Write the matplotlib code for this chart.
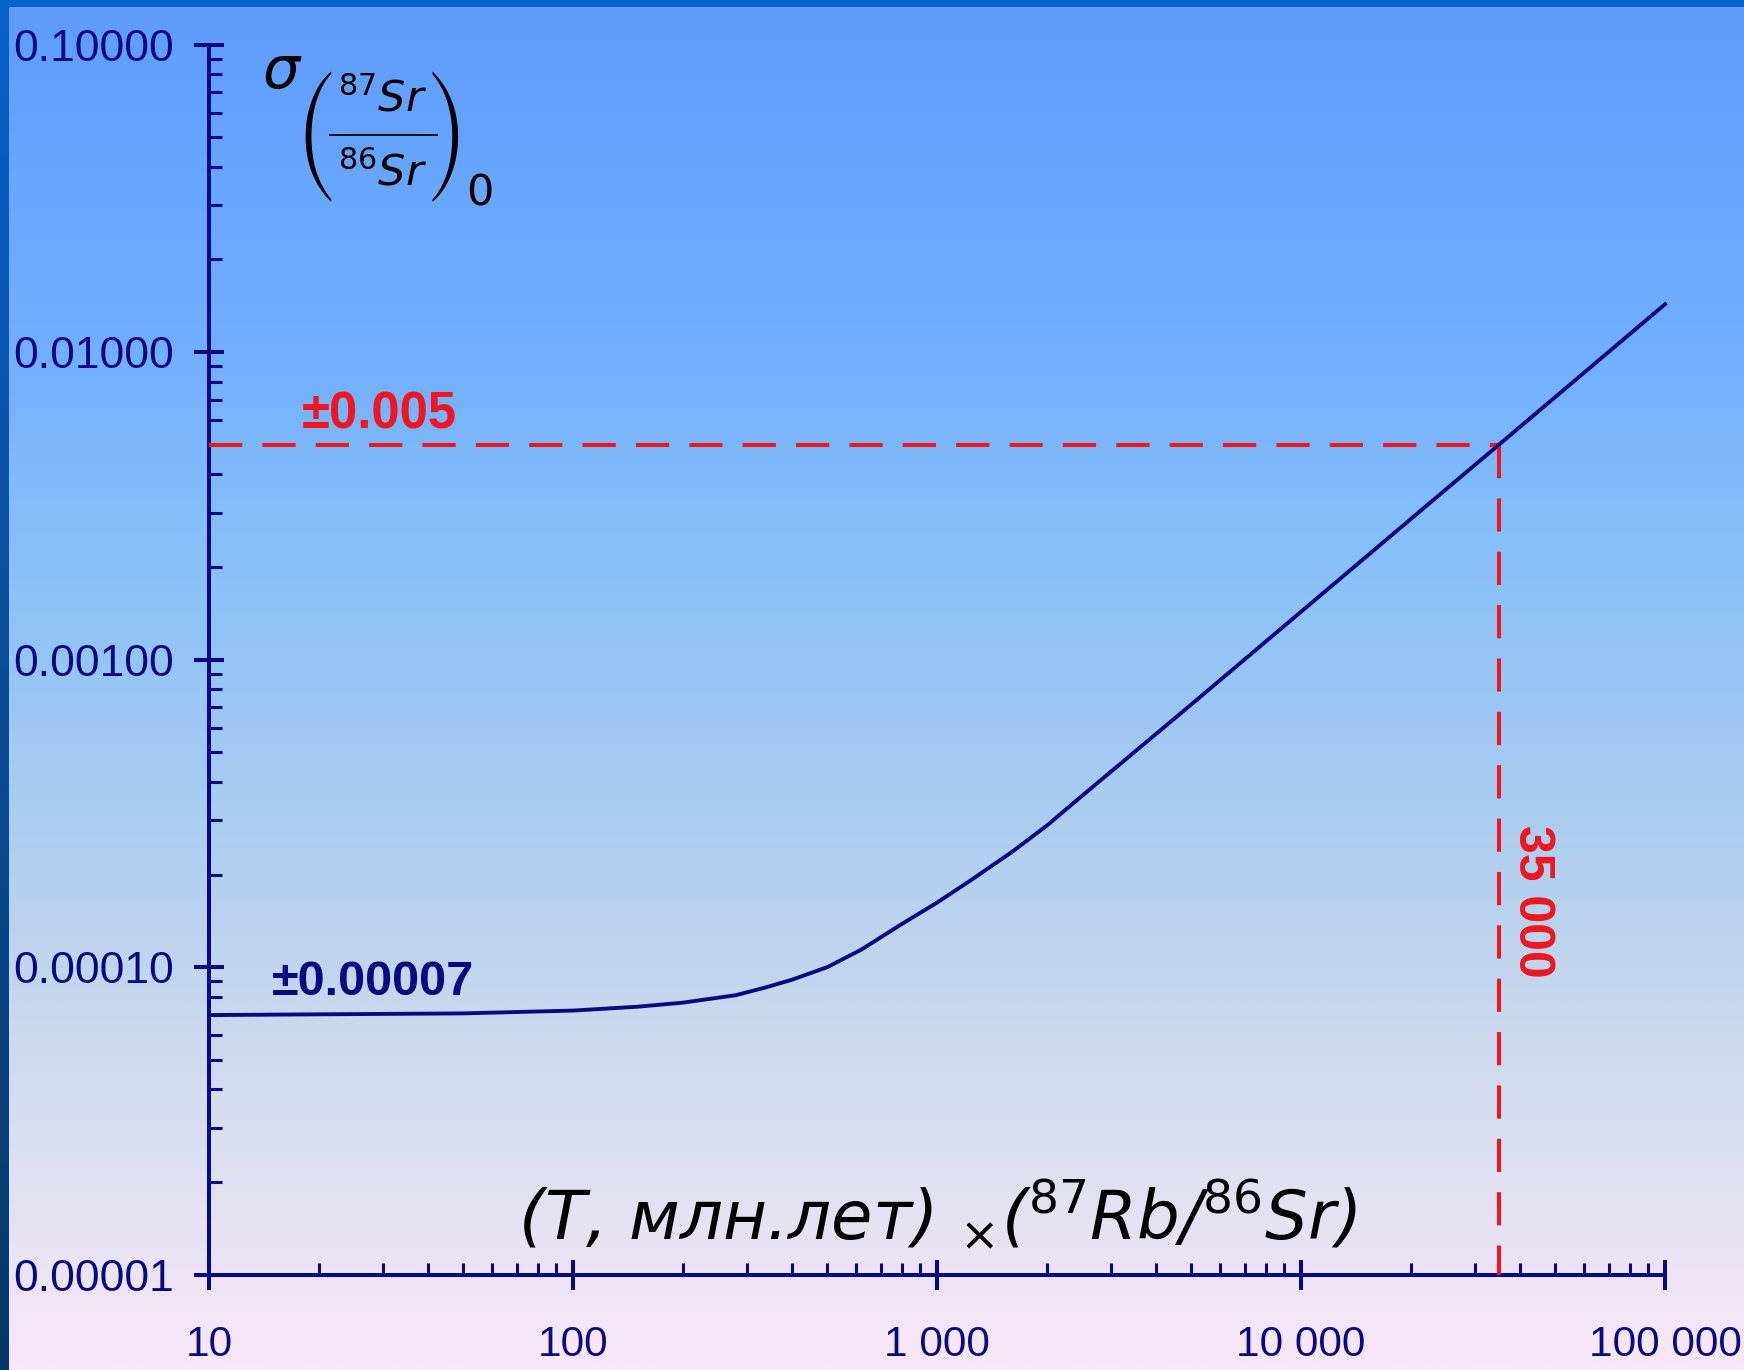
import os
import numpy as np
import matplotlib
matplotlib.use("Agg")
import matplotlib.pyplot as plt
from matplotlib import font_manager as fm
from matplotlib.textpath import TextPath
from matplotlib.lines import Line2D
from matplotlib.colors import LinearSegmentedColormap
from matplotlib.ticker import LogLocator, NullFormatter

plt.rcParams['mathtext.fontset'] = 'dejavusans'

# ---- data ----
x_values = [10, 20, 50, 100, 150, 200, 280, 340, 400, 500, 620, 800, 1000,
            1250, 1600, 2000, 2500, 5000, 10000, 20000, 35000, 100000]
sigma_values = [6.98e-5, 7.02e-5, 7.07e-5, 7.22e-5, 7.43e-5, 7.66e-5, 8.1e-5,
                8.6e-5, 9.1e-5, 1.0e-4, 1.14e-4, 1.38e-4, 1.62e-4, 1.93e-4,
                2.36e-4, 2.88e-4, 3.6e-4, 7.15e-4, 1.43e-3, 2.86e-3, 5.0e-3,
                1.43e-2]

x_ticks = [10, 100, 1000, 10000, 100000]
x_tick_labels = ['10', '100', '1 000', '10 000', '100 000']
y_ticks = [1e-5, 1e-4, 1e-3, 1e-2, 1e-1]
y_tick_labels = ['0.00001', '0.00010', '0.00100', '0.01000', '0.10000']

limit_x = 35000
limit_sigma = 0.005
label_low = '±0.00007'
label_limit_sigma = '±0.005'
label_limit_x = '35 000'

NAVY = '#0a0a80'
RED = '#ee1620'

W, H = 1744, 1370
fig = plt.figure(figsize=(W / 100, H / 100), dpi=100)

# ---- background gradient ----
bg = fig.add_axes([0, 0, 1, 1], zorder=-10)
bg.set_axis_off()
cmap = LinearSegmentedColormap.from_list('bg', [
    (0.0, '#5e9cfe'), (0.25, '#72aefd'), (0.37, '#82bdfb'),
    (0.52, '#9cc7f3'), (0.68, '#bcd3ee'), (0.84, '#dcdff0'),
    (1.0, '#f8e8f8')])
grad = np.linspace(0, 1, 512).reshape(-1, 1)
bg.imshow(grad, aspect='auto', cmap=cmap, extent=[0, 1, 1, 0])
strip = LinearSegmentedColormap.from_list('strip', ['#0862c8', '#0a4c96', '#053868'])
bg.imshow(grad, aspect='auto', cmap=strip, extent=[0, 8 / W, 1, 0])
bg.add_patch(plt.Rectangle((0, 0), 1, 7 / H, color='#0462c8', lw=0))
bg.set_xlim(0, 1)
bg.set_ylim(1, 0)

# ---- main axes ----
ax = fig.add_axes([209 / W, 1 - 1274.6 / H, (1665 - 209) / W, (1274.6 - 44.5) / H])
ax.set_facecolor('none')
ax.set_xscale('log')
ax.set_yscale('log')
ax.set_xlim(10, 100000)
ax.set_ylim(1e-5, 0.1)

for s in ['top', 'right']:
    ax.spines[s].set_visible(False)
for s in ['left', 'bottom']:
    ax.spines[s].set_color(NAVY)
    ax.spines[s].set_linewidth(2.9)

ax.set_xticks(x_ticks)
ax.set_xticklabels(x_tick_labels)
ax.set_yticks(y_ticks)
ax.set_yticklabels(y_tick_labels)
ax.xaxis.set_minor_locator(LogLocator(base=10, subs=np.arange(2, 10)))
ax.yaxis.set_minor_locator(LogLocator(base=10, subs=np.arange(2, 10)))
ax.xaxis.set_minor_formatter(NullFormatter())
ax.yaxis.set_minor_formatter(NullFormatter())

ax.tick_params(which='major', direction='inout', length=21, width=2.9,
               color=NAVY, labelcolor=NAVY)
ax.tick_params(axis='x', which='major', pad=26, labelsize=30.5)
ax.tick_params(axis='y', which='major', pad=15, labelsize=32)
ax.tick_params(which='minor', direction='in', length=9, width=2.2, color=NAVY)
for lab in ax.get_xticklabels() + ax.get_yticklabels():
    lab.set_fontfamily('Liberation Sans')

# curve
ax.plot(x_values, sigma_values, color=NAVY, lw=2.8, zorder=4,
        solid_joinstyle='round', clip_on=False)

# red dashed guides
ax.plot([10, limit_x], [limit_sigma, limit_sigma], color=RED, lw=2.9,
        dashes=(8.25, 5), zorder=3)
ax.plot([limit_x, limit_x], [limit_sigma, 1e-5], color=RED, lw=2.9,
        dashes=(8.25, 5), zorder=3)

# annotations
ax.text(0.0433, 0.2273, label_low, transform=ax.transAxes, color=NAVY,
        fontsize=35, fontweight='bold', family='Liberation Sans',
        ha='left', va='baseline')
ax.text(0.0639, 0.6882, label_limit_sigma, transform=ax.transAxes, color=RED,
        fontsize=36.5, fontweight='bold', family='Liberation Sans',
        ha='left', va='baseline')
ax.text(0.9087, 0.3037, label_limit_x, transform=ax.transAxes, color=RED,
        fontsize=36, fontweight='bold', family='Liberation Sans',
        ha='center', va='center', rotation=-90)

# ---- y-axis label (composed) ----
fig.text(262 / W, 1 - 88 / H, r'$\sigma$', fontsize=42, color='black',
         ha='left', va='baseline')

paren_font = os.path.join(matplotlib.get_data_path(), 'fonts', 'ttf',
                          'STIXSizThreeSymReg.ttf')
if os.path.exists(paren_font):
    fp = fm.FontProperties(fname=paren_font)
    ink_h = 130.0
    for ch, edge, side in [('(', 305.0, 'left'), (')', 458.0, 'right')]:
        ext = TextPath((0, 0), ch, size=100, prop=fp).get_extents()
        size_pt = ink_h * 72.0 / ext.height
        k = size_pt / 72.0
        base_px = 137.0 + (ext.y0 + ext.y1) / 2.0 * k
        x_px = edge - (ext.x0 if side == 'left' else ext.x1) * k
        fig.text(x_px / W, 1 - base_px / H, ch, fontproperties=fp,
                 fontsize=size_pt, color='black', ha='left', va='baseline')
    fig.text(383 / W, 1 - 111 / H, r'$^{87}Sr$', fontsize=31, color='black',
             ha='center', va='baseline')
    fig.text(383 / W, 1 - 185 / H, r'$^{86}Sr$', fontsize=31, color='black',
             ha='center', va='baseline')
    fig.add_artist(Line2D([330 / W, 437 / W], [1 - 135 / H, 1 - 135 / H],
                          transform=fig.transFigure, color='black', lw=1.3))
else:
    fig.text(382 / W, 1 - 137 / H,
             r'$\left(\dfrac{^{87}Sr}{^{86}Sr}\right)$', fontsize=33,
             color='black', ha='center', va='center')
fig.text(466 / W, 1 - 205 / H, '0', fontsize=31, color='black',
         family='DejaVu Sans', ha='left', va='baseline')

# ---- x-axis label ----
fig.text(937 / W, 1 - 1238 / H,
         r'(T, млн.лет) $_{\times}$($^{\mathrm{87}}$Rb/$^{\mathrm{86}}$Sr)',
         fontsize=48.5, style='italic', family='DejaVu Sans', color='black',
         ha='center', va='baseline')

fig.savefig('out.png', dpi=100)
